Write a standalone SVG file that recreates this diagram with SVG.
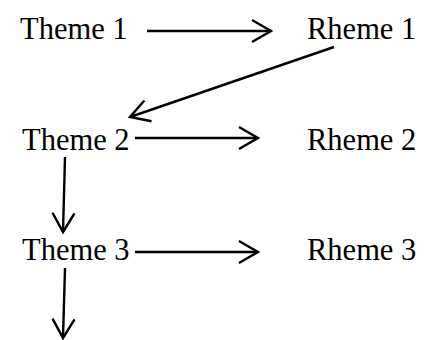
<svg xmlns="http://www.w3.org/2000/svg" width="429" height="340" viewBox="0 0 429 340">
  <style>
    .label { font-family: "Liberation Serif", "Times New Roman", serif; font-size: 30.5px; fill: #000; }
    .link { stroke: #000; stroke-width: 2.4; fill: none; marker-end: url(#open-arrow); }
  </style>
  <defs>
    <marker id="open-arrow" markerUnits="userSpaceOnUse" markerWidth="30" markerHeight="30" viewBox="-22 -15 26 30" refX="0" refY="0" orient="auto">
      <path d="M-19,-11 L0,0 L-19,11" fill="none" stroke="#000" stroke-width="2.4" stroke-linejoin="miter"/>
    </marker>
  </defs>
  <rect width="429" height="340" fill="#fff"/>

  <g id="theme1"><text class="label" x="20" y="39">Theme 1</text></g>
  <g id="rheme1"><text class="label" x="307" y="39">Rheme 1</text></g>
  <g id="theme2"><text class="label" x="22" y="150">Theme 2</text></g>
  <g id="rheme2"><text class="label" x="307" y="150">Rheme 2</text></g>
  <g id="theme3"><text class="label" x="22" y="260">Theme 3</text></g>
  <g id="rheme3"><text class="label" x="307" y="260">Rheme 3</text></g>

  <g id="connectors">
    <line class="link" x1="147" y1="31" x2="271" y2="31"/>
    <line class="link" x1="334" y1="47" x2="130" y2="117"/>
    <line class="link" x1="135" y1="138" x2="258" y2="138"/>
    <line class="link" x1="65" y1="157" x2="63" y2="232"/>
    <line class="link" x1="135" y1="252" x2="258" y2="252"/>
    <line class="link" x1="65" y1="268" x2="63" y2="338"/>
  </g>
</svg>
